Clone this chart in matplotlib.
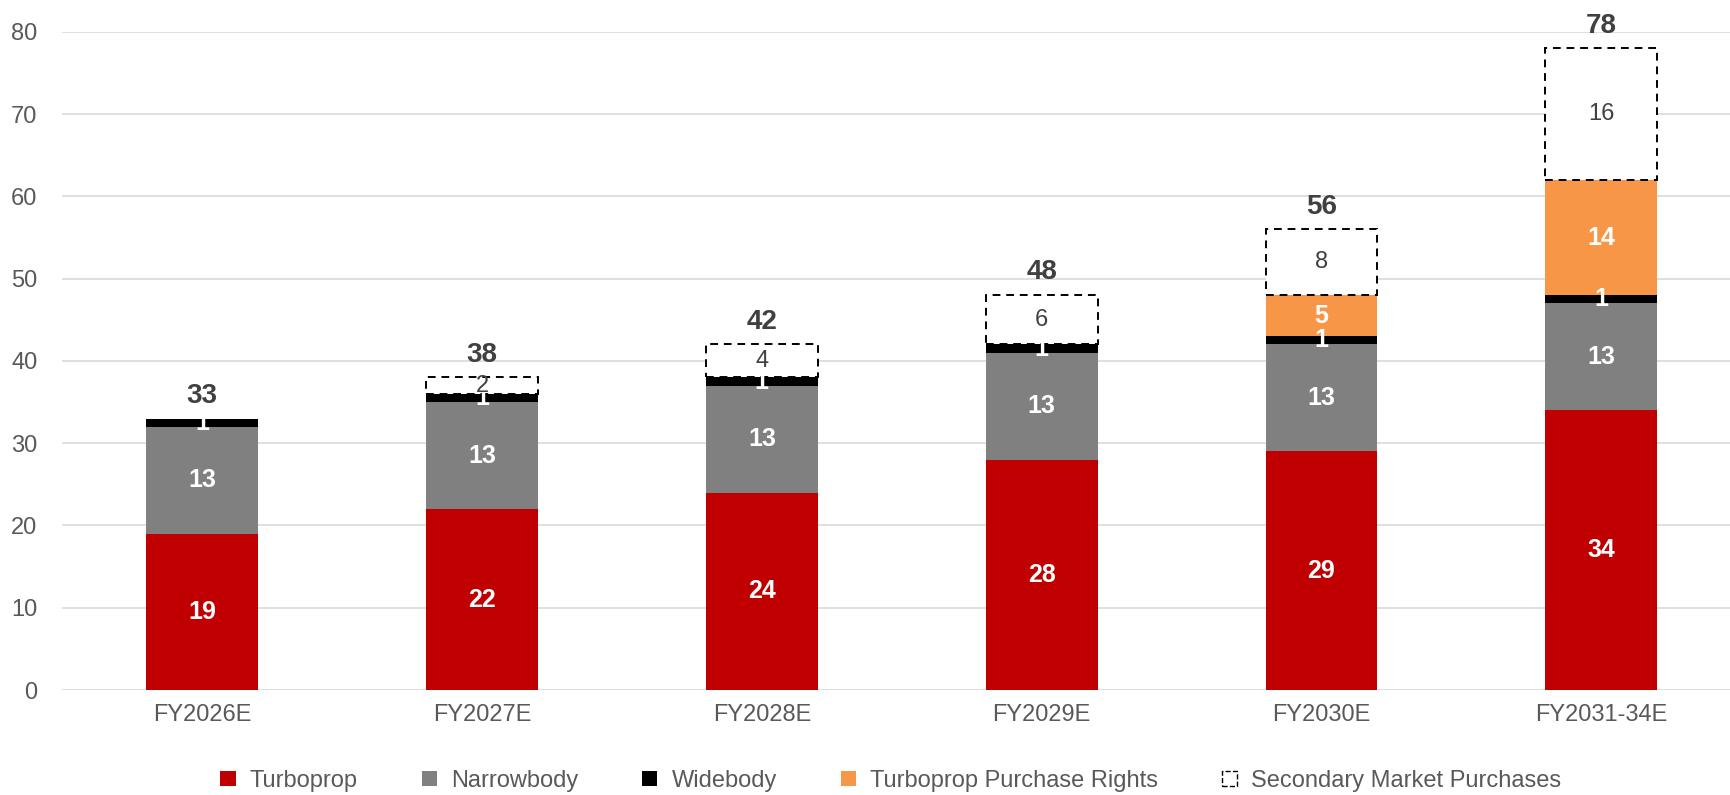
import matplotlib.pyplot as plt
from matplotlib.patches import Patch
import numpy as np

plt.rcParams['font.family'] = ['Liberation Sans', 'DejaVu Sans']

# Fleet additions by period
periods = ['FY2026E', 'FY2027E', 'FY2028E', 'FY2029E', 'FY2030E', 'FY2031-34E']
turboprop = [19, 22, 24, 28, 29, 34]
narrowbody = [13, 13, 13, 13, 13, 13]
widebody = [1, 1, 1, 1, 1, 1]
purchase_rights = [0, 0, 0, 0, 5, 14]
secondary = [0, 2, 4, 6, 8, 16]
totals = [33, 38, 42, 48, 56, 78]

RED = '#c00000'
GREY = '#808080'
ORANGE = '#f79646'
TEXT = '#404040'

fig = plt.figure(figsize=(17.3, 7.95), dpi=100)
ax = fig.add_axes([0.036, 0.132, 0.964, 0.828])

x = np.arange(len(periods))
w = 0.4
bottom = np.zeros(len(periods))

series = [
    (turboprop, RED, 'Turboprop'),
    (narrowbody, GREY, 'Narrowbody'),
    (widebody, 'black', 'Widebody'),
    (purchase_rights, ORANGE, 'Turboprop Purchase Rights'),
]

for vals, color, name in series:
    vals = np.array(vals, dtype=float)
    ax.bar(x, vals, w, bottom=bottom, color=color, zorder=2)
    for i, v in enumerate(vals):
        if v > 0:
            ax.text(x[i], bottom[i] + v / 2, f'{int(v)}', ha='center', va='center',
                    color='white', fontsize=18, fontweight='bold', zorder=4)
    bottom += vals

# Secondary market purchases: dashed outline boxes
sec = np.array(secondary, dtype=float)
for i, v in enumerate(sec):
    if v > 0:
        ax.bar(x[i], v, w, bottom=bottom[i], facecolor='white', edgecolor='black',
               linestyle=(0, (4, 3)), linewidth=1.4, zorder=3)
        ax.text(x[i], bottom[i] + v / 2, f'{int(v)}', ha='center', va='center',
                color=TEXT, fontsize=17, zorder=4)

# Totals above each bar
for i, t in enumerate(totals):
    ax.annotate(f'{t}', (x[i], t), xytext=(0, 7), textcoords='offset points',
                ha='center', va='bottom', fontsize=20, fontweight='bold', color=TEXT)

ax.set_ylim(0, 80)
ax.set_xlim(-0.5, 5.46)
ax.set_yticks(range(0, 81, 10))
ax.set_xticks(x)
ax.set_xticklabels(periods)
ax.tick_params(axis='both', length=0, labelsize=17, colors='#595959')
ax.tick_params(axis='x', pad=10)
ax.tick_params(axis='y', pad=18)
ax.grid(axis='y', color='#d9d9d9', linewidth=1.2, zorder=0)
ax.set_axisbelow(True)
for s in ax.spines.values():
    s.set_visible(False)

handles = [
    Patch(facecolor=RED, label='Turboprop'),
    Patch(facecolor=GREY, label='Narrowbody'),
    Patch(facecolor='black', label='Widebody'),
    Patch(facecolor=ORANGE, label='Turboprop Purchase Rights'),
    Patch(facecolor='white', edgecolor='black', linestyle='--', label='Secondary Market Purchases'),
]
leg = fig.legend(handles=handles, loc='center', bbox_to_anchor=(0.515, 0.018), ncol=5,
                 frameon=False, fontsize=17, handlelength=0.65, handleheight=0.65,
                 columnspacing=2.7, handletextpad=0.6)
for t in leg.get_texts():
    t.set_color('#595959')

fig.savefig('out.png', dpi=100)
